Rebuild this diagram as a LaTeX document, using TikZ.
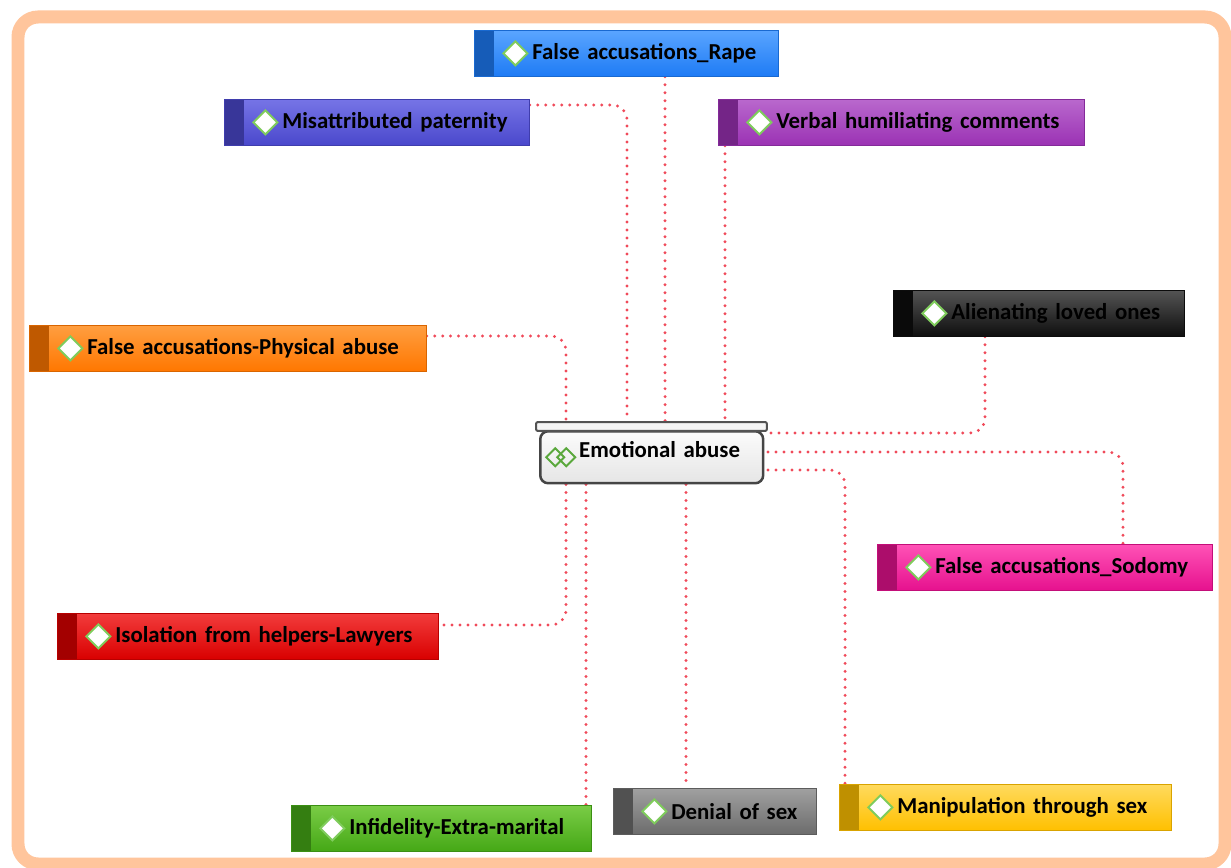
\documentclass[tikz,border=0pt]{standalone}
\usepackage{fontspec}
\setmainfont{Carlito}[WordSpace=0.8]
\usepackage{tikz}
\usetikzlibrary{positioning,shapes.geometric}
\pgfdeclarelayer{edgelayer}
\pgfsetlayers{edgelayer,main}
\definecolor{rapeBlue}{HTML}{1E7BF5}\definecolor{rapeTop}{HTML}{5AA5FF}
\definecolor{patBlue}{HTML}{4A48CC}\definecolor{patTop}{HTML}{7674E6}
\definecolor{verbPurple}{HTML}{9B32B4}\definecolor{verbTop}{HTML}{B968CD}
\definecolor{physOrange}{HTML}{FF7700}\definecolor{physTop}{HTML}{FF9E40}
\definecolor{alienBlack}{HTML}{0E0E0E}\definecolor{alienTop}{HTML}{545454}
\definecolor{sodPink}{HTML}{E6118E}\definecolor{sodTop}{HTML}{FF52B6}
\definecolor{isoRed}{HTML}{D90000}\definecolor{isoTop}{HTML}{F23C3C}
\definecolor{infGreen}{HTML}{45A816}\definecolor{infTop}{HTML}{7ACC46}
\definecolor{denGray}{HTML}{6C6C6C}\definecolor{denTop}{HTML}{A0A0A0}
\definecolor{manYellow}{HTML}{FFC000}\definecolor{manTop}{HTML}{FFDA5E}
\definecolor{iconGreen}{HTML}{7FCC5C}
\definecolor{coreGreen}{HTML}{5AA83C}
\definecolor{linkRed}{HTML}{F04A5A}
\definecolor{frameOrange}{HTML}{FFC59C}
\definecolor{emoEdge}{HTML}{454545}
\tikzset{font=\bfseries\fontsize{13}{15}\selectfont}
\tikzstyle{link}=[draw=linkRed,line width=0.65mm,line cap=round,dash pattern=on 0pt off 1.6mm,rounded corners=3mm]
\tikzstyle{bar}=[anchor=north west,minimum width=46.2mm,minimum height=1.8mm,inner sep=0pt,fill=gray!8,draw=gray!65!black,line width=0.4mm,rounded corners=0.4mm]
\tikzstyle{core}=[anchor=north west,draw=emoEdge,line width=0.5mm,rounded corners=1.6mm,top color=gray!3,bottom color=gray!20,text width=44.6mm,inner xsep=0pt,inner ysep=0pt,text height=5.2mm,text depth=5.2mm,align=left,execute at begin node=\hspace*{7.8mm},
  path picture={
    \draw[coreGreen,line width=0.4mm,sharp corners] ([xshift=3mm]path picture bounding box.west) ++(-1.8mm,0) -- ++(1.8mm,1.8mm) -- ++(1.8mm,-1.8mm) -- ++(-1.8mm,-1.8mm) -- cycle;
    \draw[coreGreen,line width=0.4mm,sharp corners] ([xshift=5.2mm]path picture bounding box.west) ++(-1.8mm,0) -- ++(1.8mm,1.8mm) -- ++(1.8mm,-1.8mm) -- ++(-1.8mm,-1.8mm) -- cycle;
  }]
\tikzset{code/.style 2 args={anchor=north west,draw=#1!85!black,top color=#2,bottom color=#1,minimum height=9.2mm,inner xsep=0pt,align=left,execute at begin node=\hspace*{11.6mm},
  path picture={
    \fill[#1!75!black] (path picture bounding box.north west) rectangle ([xshift=4mm]path picture bounding box.south west);
    \filldraw[fill=white,draw=iconGreen,line width=0.4mm] ([xshift=8.2mm]path picture bounding box.west) ++(-2.4mm,0) -- ++(2.4mm,2.4mm) -- ++(2.4mm,-2.4mm) -- ++(-2.4mm,-2.4mm) -- cycle;
  }}}

\begin{document}
\begin{tikzpicture}[x=0.02cm,y=-0.02cm]
\useasboundingbox (0,0) rectangle (1231,868);
% categories
\node[code={rapeBlue}{rapeTop},text width=60.8mm] (rape) at (474,30) {False accusations\_Rape};
\node[code={patBlue}{patTop},text width=61mm] (pat) at (224,99) {Misattributed paternity};
\node[code={verbPurple}{verbTop},text width=73.2mm] (verb) at (718,99) {Verbal humiliating comments};
\node[code={physOrange}{physTop},text width=79.4mm] (phys) at (29,325) {False accusations-Physical abuse};
\node[code={alienBlack}{alienTop},text width=58.2mm] (alien) at (893,290) {Alienating loved ones};
\node[code={sodPink}{sodTop},text width=67mm] (sod) at (877,544) {False accusations\_Sodomy};
\node[code={isoRed}{isoTop},text width=76.2mm] (iso) at (57,613) {Isolation from helpers-Lawyers};
\node[code={infGreen}{infTop},text width=60mm] (inf) at (291,805) {Infidelity-Extra-marital};
\node[code={denGray}{denTop},text width=40.6mm] (den) at (613,788) {Denial of sex};
\node[code={manYellow}{manTop},text width=66.4mm] (man) at (839,784) {Manipulation through sex};
% core
\node[core] (emo) at (539,430) {Emotional abuse};
\node[bar] (emotop) at (535,421) {};
\begin{pgfonlayer}{edgelayer}
\fill[white] (0,0) rectangle (1231,868);
\draw[frameOrange,line width=2.6mm,rounded corners=4mm] (18,17) rectangle (1225,864);
\draw[link] (rape.south -| 665,0) -- (emotop.north -| 665,0);
\draw[link] (pat.east |- 0,105) -| (emotop.north -| 627,0);
\draw[link] (verb.south -| 725,0) -- (emotop.north -| 725,0);
\draw[link] (phys.east |- 0,336) -| (emotop.north -| 566,0);
\draw[link] (alien.south -| 985,0) |- (emotop.east |- 0,433);
\draw[link] (emotop.east |- 0,452) -| (sod.north -| 1123,0);
\draw[link] (emotop.east |- 0,470) -| (man.north -| 845,0);
\draw[link] (emo.south -| 686,0) -- (den.north -| 686,0);
\draw[link] (emo.south -| 586,0) -- (inf.north -| 586,0);
\draw[link] (emo.south -| 566,0) |- (iso.east |- 0,625);
\end{pgfonlayer}
\end{tikzpicture}
\end{document}
